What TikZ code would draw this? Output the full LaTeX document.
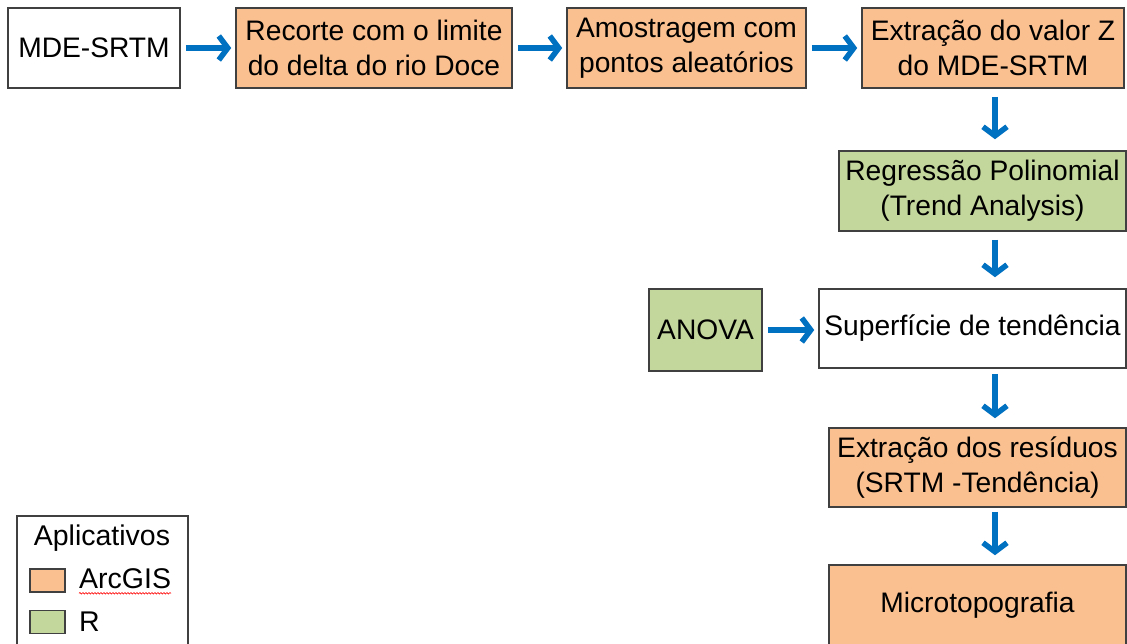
\documentclass[tikz,border=0pt]{standalone}
\usepackage{fontspec}
\setmainfont{Liberation Sans}
\usetikzlibrary{arrows.meta,decorations.pathmorphing}
\definecolor{orangefill}{HTML}{FAC090}
\definecolor{greenfill}{HTML}{C3D69B}
\definecolor{boxline}{HTML}{404040}
\definecolor{arrblue}{HTML}{0070C0}
\begin{document}
\begin{tikzpicture}[x=1pt,y=-1pt,
  box/.style={draw=boxline, line width=1.6pt, align=center, inner sep=0pt,
    font=\fontsize{28.2}{35}\selectfont, text=black, minimum height=80pt},
  orangebox/.style={box, fill=orangefill},
  greenbox/.style={box, fill=greenfill},
  whitebox/.style={box, fill=white},
  arr/.style={draw=arrblue, line width=5.5pt, -{Straight Barb[length=9pt,width=24pt]}},
  hshort/.style={shorten <=5pt, shorten >=4pt},
  vshort/.style={shorten <=8pt, shorten >=11pt},
  legendtext/.style={inner sep=0pt, font=\fontsize{28.5}{30}\selectfont, text=black},
  swatch/.style={draw=boxline, line width=1.3pt, minimum width=35pt, minimum height=23pt, inner sep=0pt}
]
\useasboundingbox (0,0) rectangle (1127,643);
\fill[white] (0,0) rectangle (1127,643);

% top row
\node[whitebox, minimum width=172pt] (mde) at (94,48) {MDE-SRTM};
\node[orangebox, minimum width=276pt] (rec) at (374,48) {Recorte com o limite\\do delta do rio Doce};
\node[orangebox, minimum width=239pt] (amo) at (686.5,48) {Amostragem com\\pontos aleatórios};
\node[orangebox, minimum width=262pt] (ext) at (993,48) {Extração do valor Z\\do MDE-SRTM};

% right column
\node[greenbox, minimum width=287pt] (reg) at (982.5,191) {Regressão Polinomial\\(Trend Analysis)};
\node[greenbox, minimum width=113pt, minimum height=82pt] (anova) at (705.5,330) {ANOVA};
\node[whitebox, minimum width=307pt, minimum height=79pt] (sup) at (972.5,328.5) {Superfície de tendência};
\node[orangebox, minimum width=297pt, minimum height=79pt] (res) at (977.5,467.5) {Extração dos resíduos\\(SRTM -Tendência)};
\node[orangebox, minimum width=297pt, minimum height=80pt] (mic) at (977.5,605) {Microtopografia};

% column coordinate for the vertical arrows
\coordinate (col) at (995,0);

% connectors
\draw[arr, hshort] (mde.east) -- (mde.east -| rec.west);
\draw[arr, hshort] (rec.east) -- (rec.east -| amo.west);
\draw[arr, hshort] (amo.east) -- (amo.east -| ext.west);
\draw[arr, vshort] (ext.south -| col) -- (reg.north -| col);
\draw[arr, vshort] (reg.south -| col) -- (sup.north -| col);
\draw[arr, hshort] (anova.east) -- (anova.east -| sup.west);
\draw[arr, shorten <=5pt, shorten >=9pt] (sup.south -| col) -- (res.north -| col);
\draw[arr, shorten <=4pt, shorten >=9pt] (res.south -| col) -- (mic.north -| col);

% legend
\node[draw=boxline, line width=1.3pt, fill=white, minimum width=171pt, minimum height=134pt, inner sep=0pt] (legend) at (102.5,583) {};
\node[legendtext, anchor=base] (legtitle) at (102,545) {Aplicativos};
\node[swatch, fill=orangefill] (sw1) at (47.5,580.5) {};
\node[swatch, fill=greenfill] (sw2) at (47.5,622) {};
\node[legendtext, anchor=west] (lab1) at (79,579) {ArcGIS};
\node[legendtext, anchor=west] (lab2) at (79,622) {R};
\draw[red, line width=0.6pt, decorate, decoration={snake, amplitude=0.8pt, segment length=3pt}]
  ([yshift=-4pt]lab1.south west) -- ([yshift=-4pt]lab1.south east);
\end{tikzpicture}
\end{document}
